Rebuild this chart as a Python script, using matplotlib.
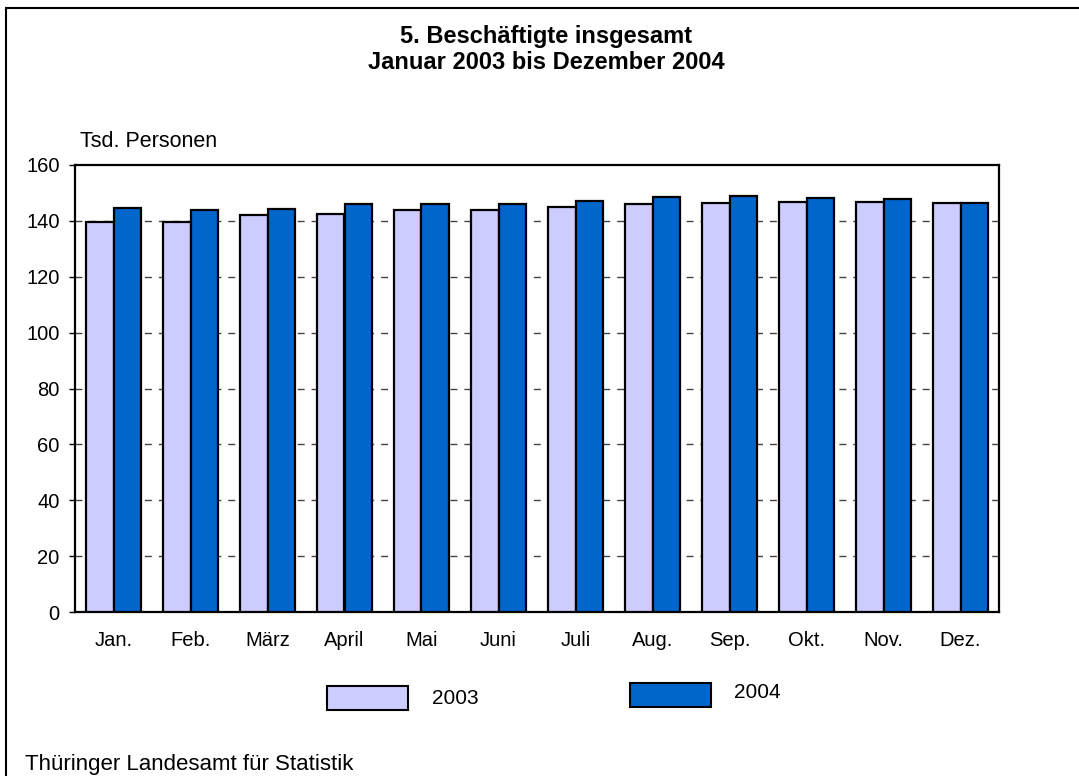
import numpy as np
import matplotlib
matplotlib.use('Agg')
import matplotlib.pyplot as plt
from matplotlib.patches import Rectangle

plt.rcParams['font.family'] = ['Liberation Sans', 'DejaVu Sans']

months = ['Jan.', 'Feb.', 'März', 'April', 'Mai', 'Juni', 'Juli', 'Aug.', 'Sep.', 'Okt.', 'Nov.', 'Dez.']
values_2003 = [139.6, 139.7, 142.0, 142.4, 143.9, 143.9, 144.8, 146.0, 146.3, 146.9, 146.9, 146.5]
values_2004 = [144.5, 143.8, 144.2, 145.9, 146.0, 146.0, 147.2, 148.4, 148.9, 148.2, 147.7, 146.5]
series_labels = ['2003', '2004']
yticks = [0, 20, 40, 60, 80, 100, 120, 140, 160]

col_2003 = '#CCCCFF'
col_2004 = '#0066CC'

W, H = 1079, 776
fig = plt.figure(figsize=(W / 100, H / 100), dpi=100)

# axes box in pixels: left 75, right 999, top 165, bottom 612
ax = fig.add_axes([75 / W, 1 - 612 / H, (999 - 75) / W, (612 - 165) / H])

x = np.arange(len(months))
bw = 0.36
ax.bar(x - bw / 2, values_2003, bw, color=col_2003, edgecolor='black', linewidth=1.6, zorder=3)
ax.bar(x + bw / 2, values_2004, bw, color=col_2004, edgecolor='black', linewidth=1.6, zorder=3)

ax.set_xlim(-0.5, len(months) - 0.5)
ax.set_ylim(0, 160)
ax.set_yticks(yticks)
ax.set_xticks(x)
ax.set_xticklabels(months)
ax.tick_params(axis='x', length=0, labelsize=14.5, pad=14)
ax.tick_params(axis='y', length=4, width=1, direction='out', labelsize=14.5, pad=7)

for y in yticks[1:-1]:
    ax.axhline(y, color='#444444', linewidth=1.0, dashes=(5, 5), zorder=1)

for sp in ax.spines.values():
    sp.set_linewidth(1.6)

fig.text(80 / W, 1 - 147 / H, 'Tsd. Personen', fontsize=15.5, va='baseline', ha='left')

fig.text(546 / W, 1 - 43 / H, '5. Beschäftigte insgesamt', fontsize=17, fontweight='bold',
         ha='center', va='baseline')
fig.text(546 / W, 1 - 69 / H, 'Januar 2003 bis Dezember 2004', fontsize=17, fontweight='bold',
         ha='center', va='baseline')

# legend
leg_items = [(327, 686, col_2003, series_labels[0], 432, 698),
             (630, 683, col_2004, series_labels[1], 734, 693)]
for px, py, c, lab, tx, ty in leg_items:
    fig.patches.append(Rectangle((px / W, 1 - (py + 24) / H), 81 / W, 24 / H, transform=fig.transFigure,
                                 facecolor=c, edgecolor='black', linewidth=1.5))
    fig.text(tx / W, 1 - ty / H, lab, fontsize=15, ha='left', va='center')

fig.text(25 / W, 1 - 770 / H, 'Thüringer Landesamt für Statistik', fontsize=16, ha='left', va='baseline')

# outer frame (left and top edges visible)
fig.patches.append(Rectangle((6 / W, -0.1), 1.2, 1 - 8 / H + 0.1, transform=fig.transFigure,
                             facecolor='none', edgecolor='black', linewidth=1.5))

fig.savefig('out.png', dpi=100)
